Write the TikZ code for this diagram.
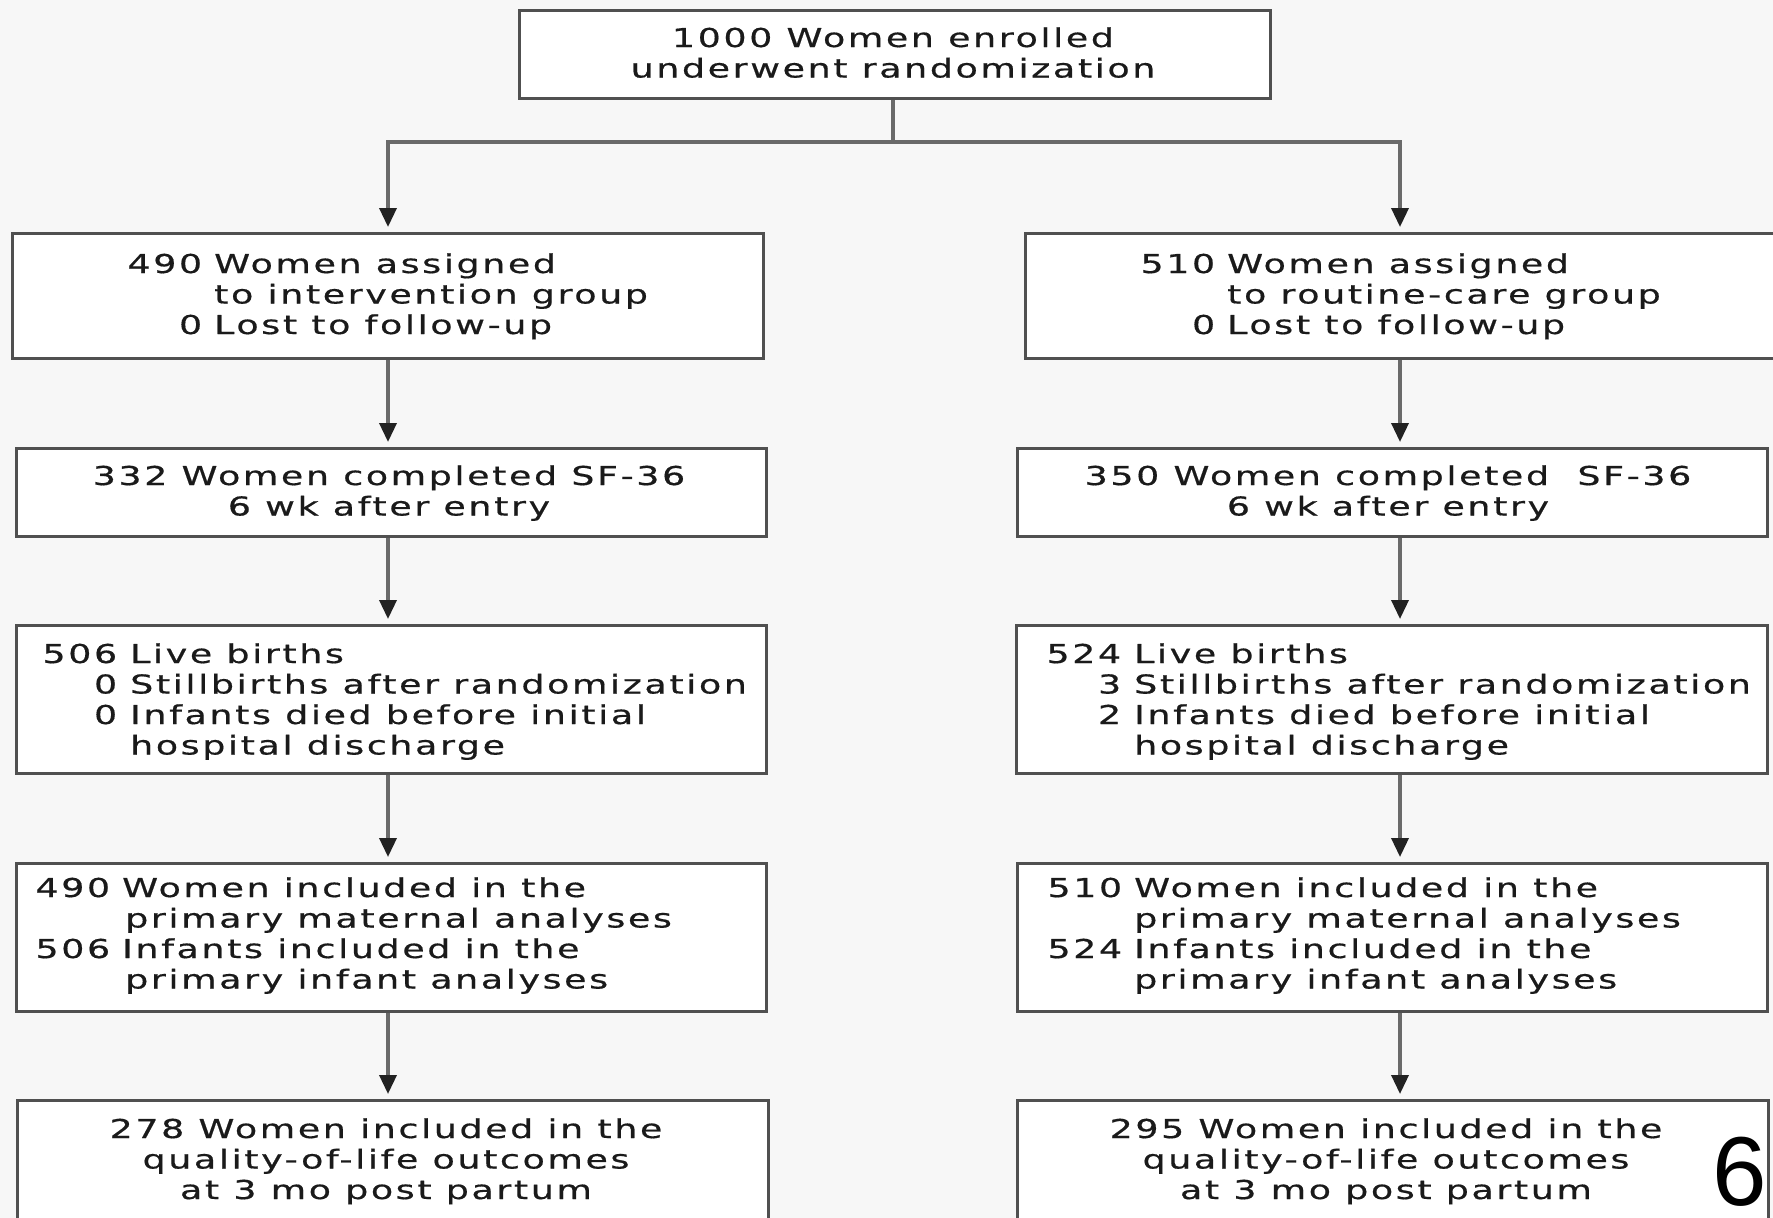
\documentclass[tikz,border=0pt]{standalone}
\usepackage{fontspec}
\usetikzlibrary{arrows.meta}
\newfontfamily\boxfont{DejaVu Sans}[FakeStretch=1.4,LetterSpace=10,FakeBold=0.6]
\newfontfamily\pgnumfont{Liberation Sans}
\definecolor{bgc}{HTML}{F7F7F7}
\definecolor{boxc}{HTML}{505050}
\definecolor{linec}{HTML}{6A6A6A}
\definecolor{tipc}{HTML}{222222}
\definecolor{txtc}{HTML}{1A1A1A}
\begin{document}
\begin{tikzpicture}[x=1pt,y=-1pt,
  box/.style={draw=boxc, line width=3pt, fill=white, inner sep=0pt, anchor=north west},
  txt/.style={inner sep=0pt, text=txtc, font=\boxfont\fontsize{26}{30.5}\selectfont},
  conn/.style={draw=linec, line width=3.5pt},
  arr/.style={conn, -{Triangle[width=17pt,length=19pt,color=tipc]}, shorten >=5pt}]
\useasboundingbox (0,0) rectangle (1773,1218);
\clip (0,0) rectangle (1773,1218);
\fill[bgc] (0,0) rectangle (1773,1218);

% boxes
\node[box, minimum width=751pt, minimum height=88pt] (top) at (518,9) {};
\node[box, minimum width=751pt, minimum height=125pt] (L1) at (11,232) {};
\node[box, minimum width=752pt, minimum height=125pt] (R1) at (1024,232) {};
\node[box, minimum width=750pt, minimum height=88pt] (L2) at (15,447) {};
\node[box, minimum width=750pt, minimum height=88pt] (R2) at (1016,447) {};
\node[box, minimum width=750pt, minimum height=148pt] (L3) at (15,624) {};
\node[box, minimum width=751pt, minimum height=148pt] (R3) at (1015,624) {};
\node[box, minimum width=750pt, minimum height=148pt] (L4) at (15,862) {};
\node[box, minimum width=750pt, minimum height=148pt] (R4) at (1016,862) {};
\node[box, minimum width=751pt, minimum height=150pt] (L5) at (16,1099) {};
\node[box, minimum width=751pt, minimum height=150pt] (R5) at (1016,1099) {};

% connectors
\coordinate (cl) at (388,0);
\coordinate (cr) at (1400,0);
\coordinate (j) at (893,142);
\draw[conn] (top.south -| j) -- (j);
\draw[arr] (j) -| (L1.north -| cl);
\draw[arr] (j) -| (R1.north -| cr);
\draw[arr] (L1.south -| cl) -- (L2.north -| cl);
\draw[arr] (R1.south -| cr) -- (R2.north -| cr);
\draw[arr] (L2.south -| cl) -- (L3.north -| cl);
\draw[arr] (R2.south -| cr) -- (R3.north -| cr);
\draw[arr] (L3.south -| cl) -- (L4.north -| cl);
\draw[arr] (R3.south -| cr) -- (R4.north -| cr);
\draw[arr] (L4.south -| cl) -- (L5.north -| cl);
\draw[arr] (R4.south -| cr) -- (R5.north -| cr);

% texts
\node[txt, anchor=base] (topt) at (893,47) {\begin{tabular}[t]{@{}c@{}}1000 Women enrolled\\underwent randomization\end{tabular}};

\node[txt, anchor=base west] (L1t) at (214,273) {\begin{tabular}[t]{@{}l@{}}\llap{490\hspace{12pt}}Women assigned\\to intervention group\\\llap{0\hspace{12pt}}Lost to follow-up\end{tabular}};
\node[txt, anchor=base west] (R1t) at (1227,273) {\begin{tabular}[t]{@{}l@{}}\llap{510\hspace{12pt}}Women assigned\\to routine-care group\\\llap{0\hspace{12pt}}Lost to follow-up\end{tabular}};

\node[txt, anchor=base] (L2t) at (389,485) {\begin{tabular}[t]{@{}c@{}}332 Women completed SF-36\\6 wk after entry\end{tabular}};
\node[txt, anchor=base] (R2t) at (1388,485) {\begin{tabular}[t]{@{}c@{}}350 Women completed\ \ SF-36\\6 wk after entry\end{tabular}};

\node[txt, anchor=base west] (L3t) at (130,663) {\begin{tabular}[t]{@{}l@{}}\llap{506\hspace{13pt}}Live births\\\llap{0\hspace{13pt}}Stillbirths after randomization\\\llap{0\hspace{13pt}}Infants died before initial\\hospital discharge\end{tabular}};
\node[txt, anchor=base west] (R3t) at (1134,663) {\begin{tabular}[t]{@{}l@{}}\llap{524\hspace{13pt}}Live births\\\llap{3\hspace{13pt}}Stillbirths after randomization\\\llap{2\hspace{13pt}}Infants died before initial\\hospital discharge\end{tabular}};

\node[txt, anchor=base west] (L4t) at (122,897) {\begin{tabular}[t]{@{}l@{}}\llap{490\hspace{12pt}}Women included in the\\\hspace{3pt}primary maternal analyses\\\llap{506\hspace{12pt}}Infants included in the\\\hspace{3pt}primary infant analyses\end{tabular}};
\node[txt, anchor=base west] (R4t) at (1134,897) {\begin{tabular}[t]{@{}l@{}}\llap{510\hspace{12pt}}Women included in the\\primary maternal analyses\\\llap{524\hspace{12pt}}Infants included in the\\primary infant analyses\end{tabular}};

\node[txt, anchor=base] (L5t) at (386,1138) {\begin{tabular}[t]{@{}c@{}}278 Women included in the\\quality-of-life outcomes\\at 3 mo post partum\end{tabular}};
\node[txt, anchor=base] (R5t) at (1386,1138) {\begin{tabular}[t]{@{}c@{}}295 Women included in the\\quality-of-life outcomes\\at 3 mo post partum\end{tabular}};

\node[inner sep=0pt, anchor=base east, font=\pgnumfont\fontsize{98}{98}\selectfont] (pg) at (1767,1205) {6};
\end{tikzpicture}
\end{document}
